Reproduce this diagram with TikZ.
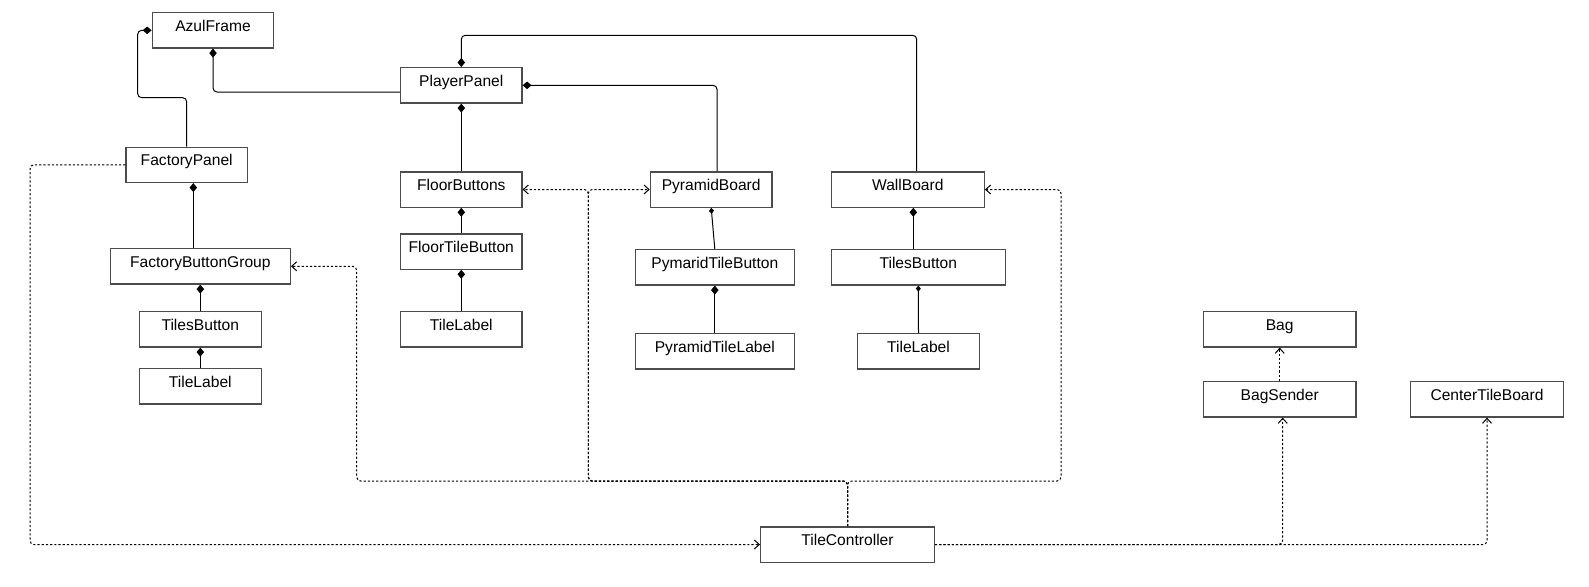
\documentclass[tikz,border=0pt]{standalone}
\usepackage{fontspec}
\setmainfont{Liberation Sans}
\usetikzlibrary{arrows.meta}

\tikzset{
  cls/.style={draw=black!70, line width=1.3pt, fill=white, inner xsep=0pt, inner ysep=0pt,
    text height=18.5pt, text depth=16.8pt, align=center,
    font=\fontsize{15.6pt}{18pt}\selectfont},
  comp/.style={draw=black, line width=1pt, rounded corners=4pt,
    {Diamond[length=9pt,width=7.5pt]}-},
  compsmall/.style={draw=black, line width=1pt,
    {Diamond[length=6pt,width=5pt]}-},
  dep/.style={draw=black, line width=1pt, dash pattern=on 2.2pt off 2pt, rounded corners=4pt,
    -{Straight Barb[length=5pt,width=9pt,line width=1pt]}},
}

\begin{document}
\begin{tikzpicture}[x=1pt,y=-1pt]
  \fill[white] (0,0) rectangle (1589,586);
  \useasboundingbox (0,0) rectangle (1589,586);

  % class boxes
  \node[cls, minimum width=121.4pt] (af)   at (213.0,30.3)  {AzulFrame};
  \node[cls, minimum width=121.3pt] (pp)   at (461.3,85.3)  {PlayerPanel};
  \node[cls, minimum width=121.3pt] (fp)   at (186.7,164.8) {FactoryPanel};
  \node[cls, minimum width=180pt]   (fbg)  at (200.3,266.3) {FactoryButtonGroup};
  \node[cls, minimum width=122pt]   (tb1)  at (200.3,329.3) {TilesButton};
  \node[cls, minimum width=122pt]   (tl1)  at (200.3,386.3) {TileLabel};
  \node[cls, minimum width=121.3pt] (fb)   at (461.3,189.5) {FloorButtons};
  \node[cls, minimum width=121.3pt] (ftb)  at (461.3,251.5) {FloorTileButton};
  \node[cls, minimum width=121.3pt] (tl2)  at (461.3,329.3) {TileLabel};
  \node[cls, minimum width=121.7pt] (pb)   at (711.2,189.5) {PyramidBoard};
  \node[cls, minimum width=159pt]   (ptb)  at (714.8,267.3) {PymaridTileButton};
  \node[cls, minimum width=159pt]   (ptl)  at (714.8,351.3) {PyramidTileLabel};
  \node[cls, minimum width=153pt]   (wb)   at (907.8,189.5) {WallBoard};
  \node[cls, minimum width=174pt]   (tb2)  at (918.3,267.3) {TilesButton};
  \node[cls, minimum width=121.6pt] (tl3)  at (918.5,351.3) {TileLabel};
  \node[cls, minimum width=173.6pt] (tc)   at (847.5,544.5) {TileController};
  \node[cls, minimum width=152.7pt] (bag)  at (1279.7,329.3) {Bag};
  \node[cls, minimum width=152.7pt] (bs)   at (1279.7,399.3) {BagSender};
  \node[cls, minimum width=152.6pt] (ctb)  at (1487.0,399.3) {CenterTileBoard};

  % composition links (diamond at the owning class)
  \draw[comp] (af.west) -| (137.7,97.7) -| (fp.north);
  \draw[comp] (af.south) |- ([yshift=-6.7pt]pp.west);
  \draw[comp] (pp.north) -- ++(0,-31.7) -| ([xshift=8.9pt]wb.north);
  \draw[comp] (pp.east) -| ([xshift=5.8pt]pb.north);
  \draw[comp] (pp.south) -- (fb.north);
  \draw[comp] ([xshift=6.6pt]fp.south) -- ([xshift=-7pt]fbg.north);
  \draw[comp] (fbg.south) -- (tb1.north);
  \draw[comp] (tb1.south) -- (tl1.north);
  \draw[comp] (fb.south) -- (ftb.north);
  \draw[comp] (ftb.south) -- (tl2.north);
  \draw[compsmall] (pb.south) -- (ptb.north);
  \draw[comp] (ptb.south) -- (ptl.north);
  \draw[comp] ([xshift=5.5pt]wb.south) -- ([xshift=-5pt]tb2.north);
  \draw[compsmall] (tb2.south) -- (tl3.north);

  % dependencies of the controller
  \draw[dep] (fp.west) -| (30,544.5) -- (tc.west);
  \draw[dep] (tc.north) |- (356.7,481) |- (fbg.east);
  \draw[dep] (tc.north) |- (588.3,481) |- (fb.east);
  \draw[dep] (tc.north) |- (588.3,481) |- (pb.west);
  \draw[dep] (tc.north) |- (1061,481) |- (wb.east);
  \draw[dep] (tc.east) -| ([xshift=3pt]bs.south);
  \draw[dep] (tc.east) -| (ctb.south);
  \draw[dep] (bs.north) -- (bag.south);
\end{tikzpicture}
\end{document}
